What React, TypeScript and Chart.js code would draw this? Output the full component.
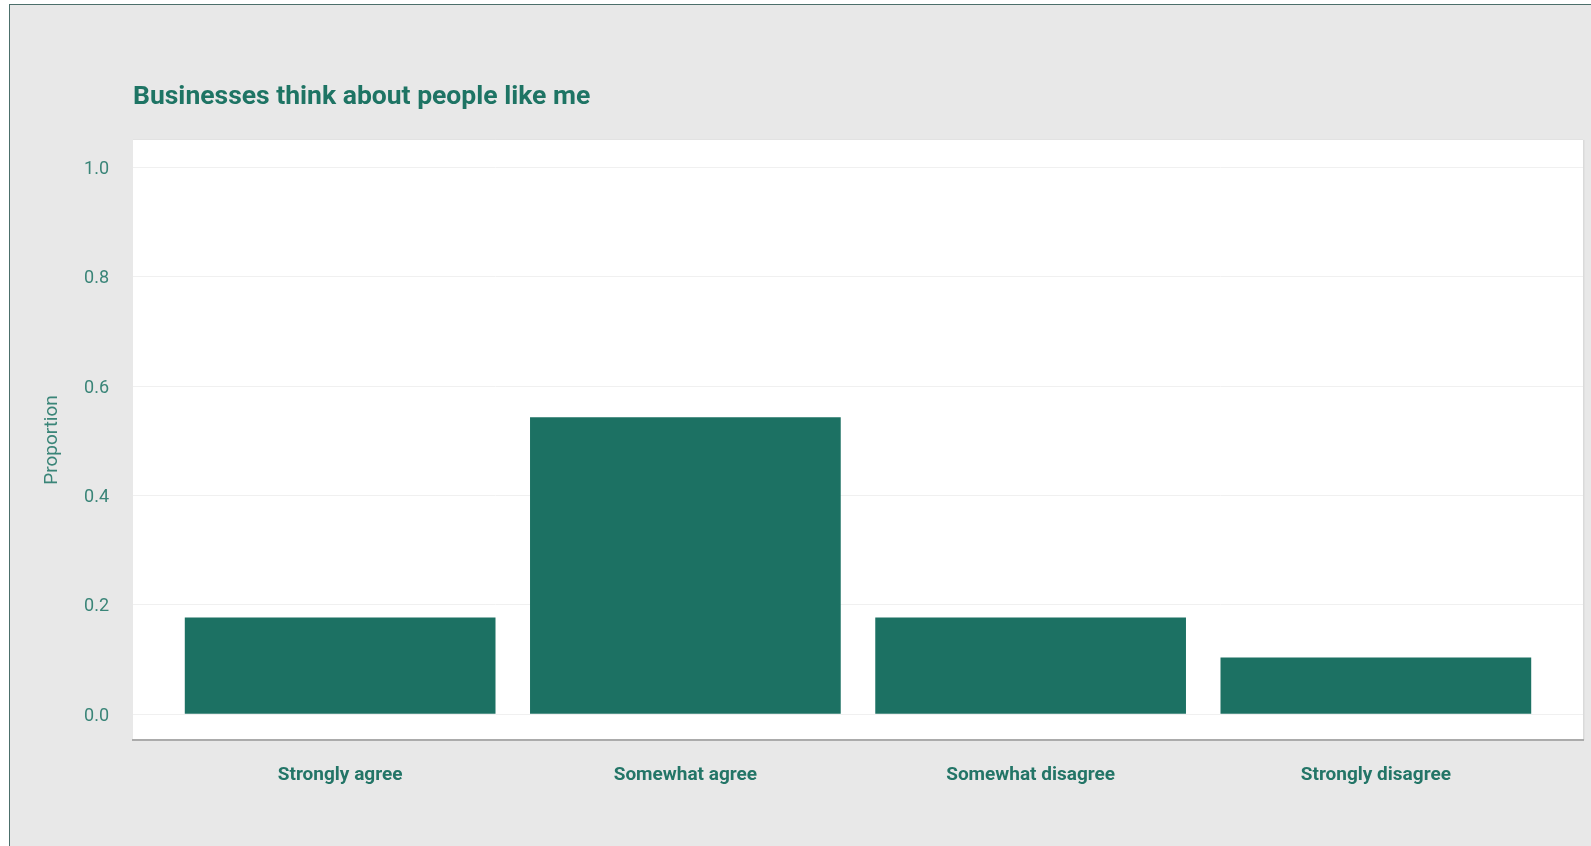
import React, { useEffect, useRef } from "react";
import { Chart, registerables } from "chart.js";

Chart.register(...registerables);

const categories: string[] = ["Strongly agree", "Somewhat agree", "Somewhat disagree", "Strongly disagree"];
const categoryIndex: number[] = [0, 1, 2, 3];
const proportions: number[] = [0.177, 0.543, 0.177, 0.104];
const yTickValues: number[] = [0, 0.2, 0.4, 0.6, 0.8, 1.0];
const chartTitle = "Businesses think about people like me";
const yAxisTitle = "Proportion";

const BAR_COLOR = "#1c7163";
const TITLE_COLOR = "#1e7464";
const FONT = "Roboto, 'Liberation Sans', Arial, sans-serif";

const plotBackground = {
  id: "plotBackground",
  beforeDraw(chart: any) {
    const { ctx, chartArea } = chart;
    ctx.save();
    ctx.fillStyle = "#ffffff";
    ctx.fillRect(chartArea.left, chartArea.top, chartArea.right - chartArea.left, chartArea.bottom - chartArea.top);
    ctx.strokeStyle = "#dadada";
    ctx.lineWidth = 1.5;
    ctx.beginPath();
    ctx.moveTo(chartArea.right + 0.75, chartArea.top);
    ctx.lineTo(chartArea.right + 0.75, chartArea.bottom);
    ctx.stroke();
    ctx.strokeStyle = "#e2e2e2";
    ctx.lineWidth = 1;
    ctx.beginPath();
    ctx.moveTo(chartArea.left, chartArea.top - 0.5);
    ctx.lineTo(chartArea.right, chartArea.top - 0.5);
    ctx.stroke();
    ctx.restore();
  },
};

export default function App() {
  const ref = useRef<HTMLCanvasElement | null>(null);

  useEffect(() => {
    if (!ref.current) return;
    const chart = new Chart(ref.current, {
      type: "bar",
      data: {
        datasets: [
          {
            data: categoryIndex.map((x, i) => ({ x, y: proportions[i] })),
            backgroundColor: BAR_COLOR,
            borderWidth: 0,
            barPercentage: 0.9,
            categoryPercentage: 1,
          },
        ],
      },
      options: {
        responsive: false,
        animation: false,
        layout: { padding: { left: 0, right: 8, top: 0, bottom: 0 } },
        plugins: {
          legend: { display: false },
          tooltip: { enabled: false },
          title: {
            display: true,
            text: chartTitle,
            align: "start",
            fullSize: false,
            color: TITLE_COLOR,
            font: { family: FONT, size: 26.5, weight: "bold", lineHeight: 1.2 },
            padding: { top: 76.5, bottom: 26.7 },
          },
        },
        scales: {
          x: {
            type: "linear",
            min: -0.6,
            max: 3.6,
            offset: false,
            grid: { display: false, offset: false, drawTicks: false },
            border: { display: true, color: "#ababab", width: 2 },
            afterBuildTicks: (scale: any) => {
              scale.ticks = categoryIndex.map((v) => ({ value: v }));
            },
            afterFit: (scale: any) => {
              scale.height = 106;
            },
            ticks: {
              autoSkip: false,
              maxRotation: 0,
              padding: 24,
              color: "#237567",
              font: { family: FONT, size: 19, weight: "bold" },
              callback: (v: any) => categories[v as number] ?? "",
            },
          },
          y: {
            min: -0.047,
            max: 1.05,
            grid: { color: "#f0f0f0", lineWidth: 1, drawTicks: false },
            border: { display: false },
            afterBuildTicks: (scale: any) => {
              scale.ticks = yTickValues.map((v) => ({ value: v }));
            },
            afterFit: (scale: any) => {
              scale.width = 123;
            },
            ticks: {
              padding: 24,
              labelOffset: 2,
              color: "#3a8578",
              font: { family: FONT, size: 18 },
              callback: (v: any) => Number(v).toFixed(1),
            },
            title: {
              display: true,
              text: yAxisTitle,
              color: "#3a8578",
              font: { family: FONT, size: 19, lineHeight: 1.2 },
              padding: { top: 31, bottom: 0 },
            },
          },
        },
      },
      plugins: [plotBackground],
    });
    return () => chart.destroy();
  }, []);

  return (
    <div
      style={{
        position: "fixed",
        left: 9,
        top: 4,
        width: 1582,
        height: 842,
        boxSizing: "border-box",
        background: "#e8e8e8",
        borderLeft: "1px solid #4c6f6b",
        borderTop: "1px solid #4c6f6b",
        overflow: "hidden",
      }}
    >
      <canvas ref={ref} width={1581} height={841} style={{ display: "block" }} />
    </div>
  );
}
